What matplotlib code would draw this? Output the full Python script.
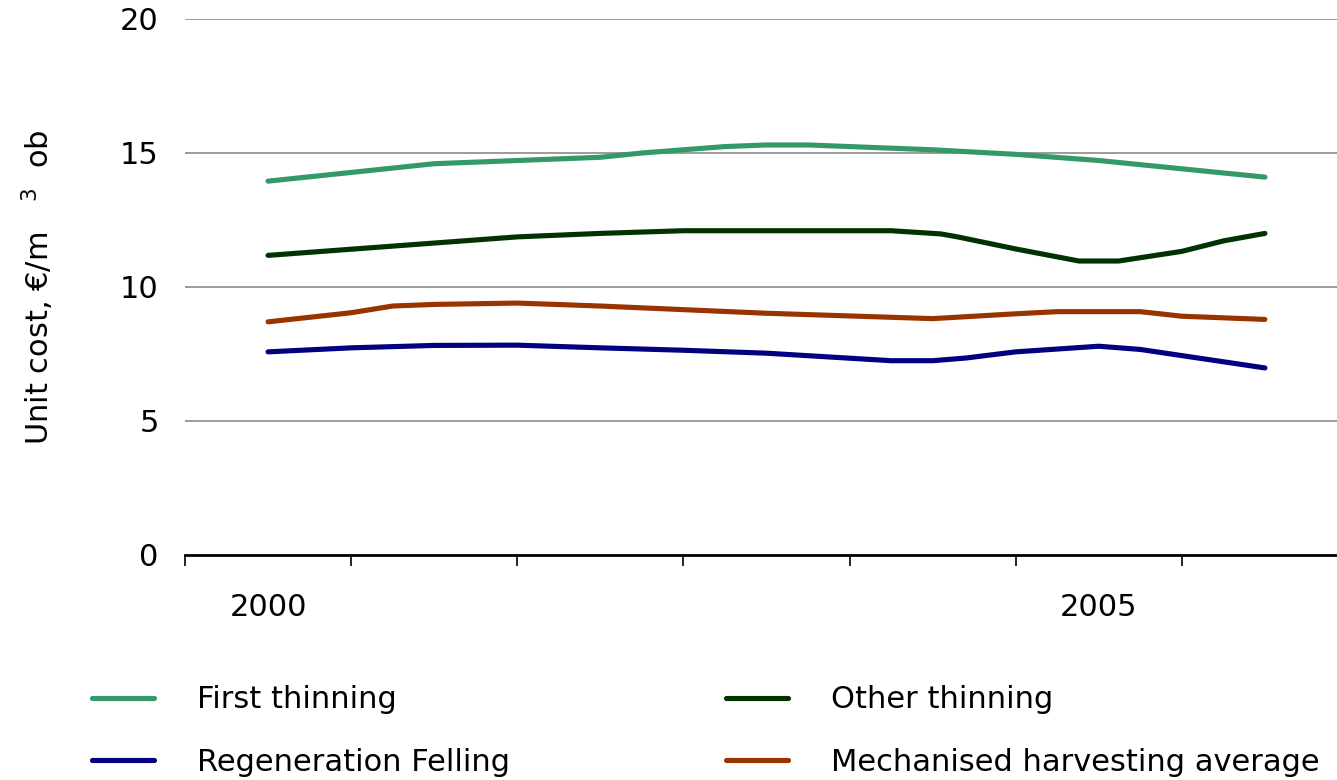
import matplotlib.pyplot as plt
from matplotlib.lines import Line2D

# values (x in years, y in EUR/m3)
first_x = [2000.0, 2001.0, 2001.5, 2002.0, 2002.25, 2002.75, 2003.0, 2003.25, 2004.0, 2004.5, 2005.0, 2006.0]
first_y = [13.95, 14.6, 14.72, 14.84, 15.0, 15.24, 15.3, 15.3, 15.12, 14.95, 14.72, 14.1]

other_x = [2000.0, 2001.5, 2002.0, 2002.5, 2003.0, 2003.75, 2004.05, 2004.15, 2004.5,
           2004.88, 2005.12, 2005.5, 2005.75, 2006.0]
other_y = [11.18, 11.87, 12.0, 12.1, 12.1, 12.1, 11.98, 11.87, 11.42,
           10.97, 10.97, 11.33, 11.72, 12.0]

mech_x = [2000.0, 2000.5, 2000.75, 2001.0, 2001.5, 2002.0, 2003.0, 2004.0, 2004.5,
          2004.75, 2005.25, 2005.5, 2006.0]
mech_y = [8.7, 9.04, 9.29, 9.35, 9.4, 9.29, 9.02, 8.82, 9.0,
          9.08, 9.08, 8.91, 8.79]

regen_x = [2000.0, 2000.5, 2001.0, 2001.5, 2002.0, 2002.5, 2003.0, 2003.75, 2004.0,
           2004.2, 2004.5, 2005.0, 2005.25, 2006.0]
regen_y = [7.58, 7.73, 7.82, 7.83, 7.73, 7.64, 7.53, 7.25, 7.25,
           7.35, 7.58, 7.79, 7.67, 6.98]

year_labels = ["2000", "2005"]
year_label_pos = [2000, 2005]
y_ticks = [0, 5, 10, 15, 20]

plt.rcParams['font.family'] = ['DejaVu Sans']
FS = 22

fig = plt.figure(figsize=(13.37, 7.8), dpi=100)
ax = fig.add_axes([185 / 1337, 1 - 555 / 780, (1348 - 185) / 1337, 536 / 780])

series = [
    (first_x, first_y, "#339966", "First thinning"),
    (other_x, other_y, "#003300", "Other thinning"),
    (regen_x, regen_y, "#000080", "Regeneration Felling"),
    (mech_x, mech_y, "#993300", "Mechanised harvesting average"),
]
for xs, ys, c, lab in series:
    ax.plot(xs, ys, color=c, lw=3.7, solid_capstyle='round', solid_joinstyle='round', zorder=3)

ax.set_xlim(1999.5, 2006.5)
ax.set_ylim(0, 20)

for v in y_ticks[1:]:
    ax.axhline(v, color="#808080", lw=1.1, zorder=1)

for s in ["top", "right", "left"]:
    ax.spines[s].set_visible(False)
ax.spines["bottom"].set_linewidth(2)

ax.set_yticks(y_ticks)
ax.set_yticklabels([str(v) for v in y_ticks])
ax.tick_params(axis="y", length=0, pad=19, labelsize=FS)

ax.set_xticks([1999.5 + k for k in range(8)])
ax.set_xticklabels([])
ax.tick_params(axis="x", which="major", length=8, width=1.2, direction="out")
ax.set_xticks(year_label_pos, minor=True)
ax.set_xticklabels(year_labels, minor=True)
ax.tick_params(axis="x", which="minor", length=0, pad=27, labelsize=FS)

ax.set_ylabel("Unit cost, €/m   $^{3}$  ob", fontsize=FS, labelpad=46)

handles = [Line2D([], [], color=c, lw=3.7, solid_capstyle='round') for _, _, c, _ in series]
labels = [s[3] for s in series]

for pair, x0 in [((0, 2), 64), ((1, 3), 698)]:
    fig.legend([handles[i] for i in pair], [labels[i] for i in pair],
               loc="upper left", bbox_to_anchor=(x0 / 1337, 1 - 658 / 780),
               frameon=False, fontsize=FS, handlelength=2.05, handletextpad=1.4,
               labelspacing=1.1)

fig.savefig("out.png", dpi=100)
